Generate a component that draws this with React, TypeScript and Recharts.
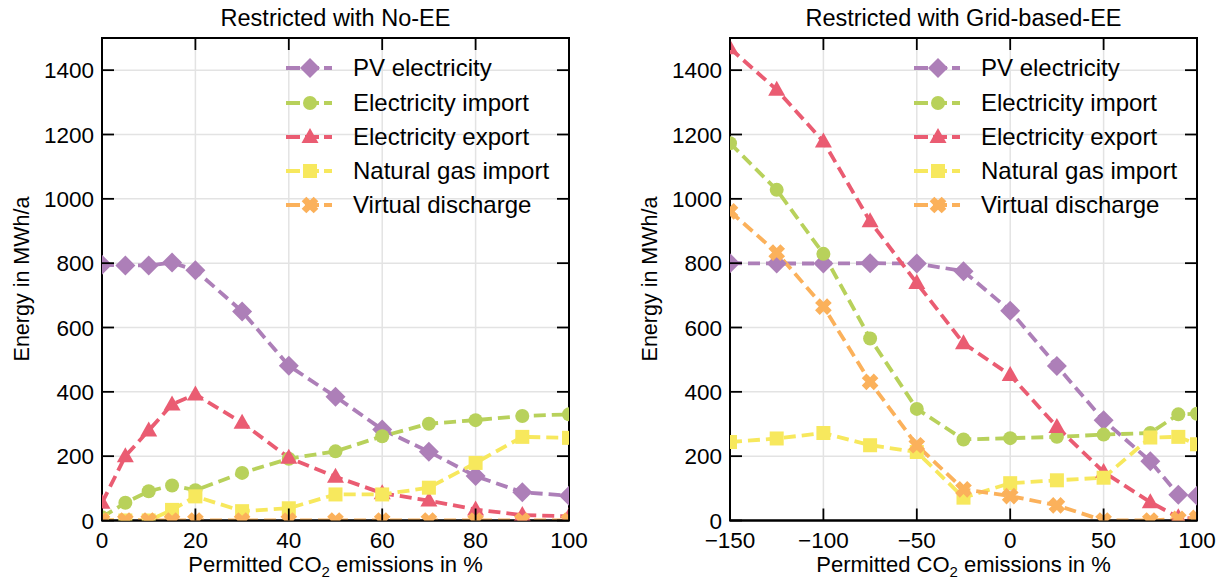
import React from "react";
import { CartesianGrid, Line, LineChart, ReferenceArea, XAxis, YAxis } from "recharts";

// permitted CO2 emissions in % (x positions)
const leftX = [0, 5, 10, 15, 20, 30, 40, 50, 60, 70, 80, 90, 100];
const rightX = [-150, -125, -100, -75, -50, -25, 0, 25, 50, 75, 90, 100];

// Restricted with No-EE, MWh/a
const leftPV = [795, 793, 793, 802, 778, 650, 481, 385, 283, 214, 138, 88, 77];
const leftImport = [10, 55, 91, 109, 94, 148, 192, 215, 262, 301, 312, 325, 330];
const leftExport = [55, 200, 280, 361, 392, 304, 195, 136, 85, 62, 34, 17, 13];
const leftGas = [0, 0, 0, 33, 75, 29, 38, 81, 81, 102, 179, 260, 257];
const leftDischarge = [0, 0, 0, 0, 0, 0, 0, 0, 0, 0, 0, 0, 0];

// Restricted with Grid-based-EE, MWh/a
const rightPV = [800, 799, 799, 800, 799, 775, 652, 480, 312, 184, 80, 77];
const rightImport = [1173, 1028, 829, 566, 347, 252, 256, 260, 267, 272, 330, 332];
const rightExport = [1468, 1339, 1178, 930, 738, 551, 452, 291, 151, 57, 10, 5];
const rightGas = [244, 255, 272, 234, 213, 71, 116, 125, 133, 258, 260, 237];
const rightDischarge = [961, 833, 665, 431, 234, 97, 76, 47, 0, 0, 5, 8];

const leftTicks = [0, 20, 40, 60, 80, 100];
const rightTicks = [-150, -100, -50, 0, 50, 100];
const yTicks = [0, 200, 400, 600, 800, 1000, 1200, 1400];
const Y_MAX = 1500;

const FONT = '"Liberation Sans", Arial, Helvetica, sans-serif';
const PLOT_TOP = 38;
const PLOT_BOTTOM = 520.5;
const TICK_LEN = 12;
const TICK_GAP = 11;

type Shape = "diamond" | "circle" | "triangle" | "square" | "cross";

const SERIES: { key: string; name: string; color: string; shape: Shape }[] = [
  { key: "pv", name: "PV electricity", color: "#ad7fb8", shape: "diamond" },
  { key: "imp", name: "Electricity import", color: "#b8d15b", shape: "circle" },
  { key: "exp", name: "Electricity export", color: "#ea5c72", shape: "triangle" },
  { key: "gas", name: "Natural gas import", color: "#f7e85d", shape: "square" },
  { key: "dis", name: "Virtual discharge", color: "#fbb15b", shape: "cross" },
];

function buildRows(xs: number[], pv: number[], imp: number[], exp: number[], gas: number[], dis: number[]) {
  return xs.map((x, i) => ({ x, pv: pv[i], imp: imp[i], exp: exp[i], gas: gas[i], dis: dis[i] }));
}

const leftData = buildRows(leftX, leftPV, leftImport, leftExport, leftGas, leftDischarge);
const rightData = buildRows(rightX, rightPV, rightImport, rightExport, rightGas, rightDischarge);

function Marker({ shape, color, cx, cy }: { shape: Shape; color: string; cx: number; cy: number }) {
  switch (shape) {
    case "diamond":
      return <polygon points={`${cx},${cy - 10} ${cx + 10},${cy} ${cx},${cy + 10} ${cx - 10},${cy}`} fill={color} />;
    case "circle":
      return <circle cx={cx} cy={cy} r={7} fill={color} />;
    case "triangle":
      return <polygon points={`${cx},${cy - 9} ${cx + 8.5},${cy + 6} ${cx - 8.5},${cy + 6}`} fill={color} />;
    case "square":
      return <rect x={cx - 7} y={cy - 7} width={14} height={14} fill={color} />;
    default: {
      const a = 8.5;
      const t = 3.3;
      const pts = [
        [-t, -a], [t, -a], [t, -t], [a, -t], [a, t], [t, t],
        [t, a], [-t, a], [-t, t], [-a, t], [-a, -t], [-t, -t],
      ].map((p) => p.join(",")).join(" ");
      return <polygon points={pts} fill={color} transform={`translate(${cx},${cy}) rotate(45)`} />;
    }
  }
}

function dotRenderer(shape: Shape, color: string) {
  return (props: any) => {
    const { cx, cy, index } = props;
    if (cx == null || cy == null) return <g key={`d-${index}`} />;
    return (
      <g key={`d-${index}`}>
        <Marker shape={shape} color={color} cx={cx} cy={cy} />
      </g>
    );
  };
}

const fmtTick = (v: number) => (v < 0 ? `\u2212${-v}` : String(v));

// bottom tick: label plus inward tick marks at the bottom and top spines
function xTickRenderer(props: any) {
  const { x, payload } = props;
  return (
    <g>
      <line x1={x} x2={x} y1={PLOT_BOTTOM} y2={PLOT_BOTTOM - TICK_LEN} stroke="#000" strokeWidth={1.8} />
      <line x1={x} x2={x} y1={PLOT_TOP} y2={PLOT_TOP + TICK_LEN} stroke="#000" strokeWidth={1.8} />
      <text x={x} y={PLOT_BOTTOM + TICK_GAP} dy="0.75em" textAnchor="middle" fontSize={22.5} fontFamily={FONT} fill="#000">
        {fmtTick(payload.value)}
      </text>
    </g>
  );
}

// left tick: label plus inward tick marks at the left and right spines
function yTickRenderer(plotLeft: number, plotRight: number) {
  return (props: any) => {
    const { y, payload } = props;
    return (
      <g>
        <line x1={plotLeft} x2={plotLeft + TICK_LEN} y1={y} y2={y} stroke="#000" strokeWidth={1.8} />
        <line x1={plotRight} x2={plotRight - TICK_LEN} y1={y} y2={y} stroke="#000" strokeWidth={1.8} />
        <text x={plotLeft - 8} y={y} dy="0.36em" textAnchor="end" fontSize={22.5} fontFamily={FONT} fill="#000">
          {payload.value}
        </text>
      </g>
    );
  };
}

function LegendBox({ left, top }: { left: number; top: number }) {
  return (
    <div style={{ position: "absolute", left, top, fontFamily: FONT, fontSize: 24 }}>
      {SERIES.map((s) => (
        <div key={s.key} style={{ display: "flex", alignItems: "center", height: 34.2 }}>
          <svg width={67} height={24} style={{ flex: "none" }}>
            <line x1={0} y1={12} x2={46} y2={12} stroke={s.color} strokeWidth={3.8} strokeDasharray="14 5" />
            <Marker shape={s.shape} color={s.color} cx={24} cy={12} />
          </svg>
          <span style={{ whiteSpace: "nowrap", lineHeight: 1 }}>{s.name}</span>
        </div>
      ))}
    </div>
  );
}

type PanelProps = {
  title: string;
  data: any[];
  ticks: number[];
  domain: [number, number];
  offsetX: number;
  width: number;
  marginLeft: number;
  marginRight: number;
};

function Panel({ title, data, ticks, domain, offsetX, width, marginLeft, marginRight }: PanelProps) {
  const plotLeft = marginLeft + 60;
  const plotRight = width - marginRight;
  const center = (plotLeft + plotRight) / 2;
  return (
    <div style={{ position: "absolute", left: offsetX, top: 0, width, height: 580 }}>
      <div
        style={{
          position: "absolute", left: center - 250, width: 500, top: 4, textAlign: "center",
          fontFamily: FONT, fontSize: 23.5, lineHeight: "28px",
        }}
      >
        {title}
      </div>
      <LineChart
        width={width}
        height={580}
        data={data}
        margin={{ top: PLOT_TOP, right: marginRight, bottom: 580 - PLOT_BOTTOM - 40, left: marginLeft }}
      >
        <CartesianGrid stroke="#e3e3e3" strokeWidth={1.5} />
        {SERIES.map((s) => (
          <Line
            key={s.key}
            type="linear"
            dataKey={s.key}
            name={s.name}
            stroke={s.color}
            strokeWidth={3.8}
            strokeDasharray="12 6"
            dot={dotRenderer(s.shape, s.color)}
            activeDot={false}
            isAnimationActive={false}
          />
        ))}
        <XAxis
          dataKey="x"
          type="number"
          domain={domain}
          ticks={ticks}
          allowDataOverflow
          height={40}
          tickLine={false}
          tick={xTickRenderer}
          axisLine={{ stroke: "#000", strokeWidth: 2 }}
        />
        <YAxis
          type="number"
          domain={[0, Y_MAX]}
          ticks={yTicks}
          allowDataOverflow
          width={60}
          tickLine={false}
          tick={yTickRenderer(plotLeft, plotRight)}
          axisLine={{ stroke: "#000", strokeWidth: 2 }}
        />
        <ReferenceArea
          x1={domain[0]}
          x2={domain[1]}
          y1={0}
          y2={Y_MAX}
          fill="none"
          fillOpacity={0}
          stroke="#000"
          strokeWidth={2}
          strokeOpacity={1}
          ifOverflow="visible"
        />
      </LineChart>
      <LegendBox left={plotLeft + 184} top={51.4} />
      <div
        style={{
          position: "absolute", left: center - 250, width: 500, top: 552, textAlign: "center",
          fontFamily: FONT, fontSize: 22, lineHeight: "26px",
        }}
      >
        Permitted CO<sub style={{ fontSize: 15 }}>2</sub> emissions in %
      </div>
      <div
        style={{
          position: "absolute", left: plotLeft - 80 - 150, top: 279 - 13, width: 300, height: 26,
          textAlign: "center", transform: "rotate(-90deg)", fontFamily: FONT, fontSize: 21.5, lineHeight: "26px",
        }}
      >
        Energy in MWh/a
      </div>
    </div>
  );
}

export default function App() {
  return (
    <div style={{ position: "absolute", left: 0, top: 0, width: 1223, height: 580, background: "#fff" }}>
      <Panel
        title="Restricted with No-EE"
        data={leftData}
        ticks={leftTicks}
        domain={[0, 100]}
        offsetX={0}
        width={620}
        marginLeft={42}
        marginRight={51}
      />
      <Panel
        title="Restricted with Grid-based-EE"
        data={rightData}
        ticks={rightTicks}
        domain={[-150, 100]}
        offsetX={620}
        width={603}
        marginLeft={50}
        marginRight={26}
      />
    </div>
  );
}
